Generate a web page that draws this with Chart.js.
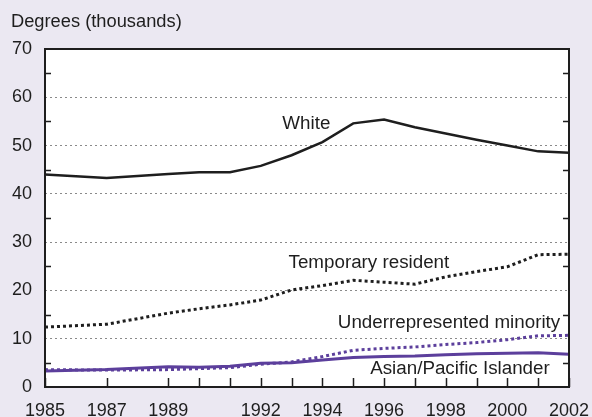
<!DOCTYPE html>
<html>
<head>
<meta charset="utf-8">
<script src="https://cdn.jsdelivr.net/npm/chart.js@4/dist/chart.umd.min.js"></script>
<style>
  html, body { margin: 0; padding: 0; background: #ebe8f2; }
  #wrap { width: 592px; height: 417px; position: relative; }
</style>
</head>
<body>
<div id="wrap"><canvas id="degChart"></canvas></div>
<script>
// data (thousands of degrees)
const years = [1985, 1987, 1989, 1990, 1991, 1992, 1993, 1994, 1995, 1996, 1997, 1998, 1999, 2000, 2001, 2002];
const labelYears = [1985, 1987, 1989, 1992, 1994, 1996, 1998, 2000, 2002];
const white = [44.0, 43.3, 44.1, 44.5, 44.5, 45.8, 48.0, 50.7, 54.6, 55.4, 53.8, 52.5, 51.2, 50.0, 48.8, 48.5];
const temporary = [12.4, 13.0, 15.3, 16.2, 17.0, 18.0, 20.1, 21.0, 22.1, 21.7, 21.3, 22.8, 23.9, 24.9, 27.4, 27.5];
const underrep = [3.6, 3.5, 3.6, 3.8, 4.0, 4.7, 5.2, 6.3, 7.6, 8.0, 8.3, 8.8, 9.2, 9.8, 10.6, 10.7];
const asian = [3.3, 3.6, 4.2, 4.1, 4.3, 4.9, 5.0, 5.6, 6.1, 6.3, 6.4, 6.7, 6.9, 7.0, 7.1, 6.8];
const yTicks = [0, 10, 20, 30, 40, 50, 60, 70];
const minorTicks = [5, 15, 25, 35, 45, 55, 65];

const PURPLE = '#5c3f9c';
const INK = '#1e1e1e';
const FONT = 'Liberation Sans, Arial, Helvetica, sans-serif';

// text labels next to the lines, anchored in data units
const lineLabels = [
  { text: 'White', x: 1992.7, y: 53.5 },
  { text: 'Temporary resident', x: 1992.9, y: 24.7 },
  { text: 'Underrepresented minority', x: 1994.5, y: 12.3 },
  { text: 'Asian/Pacific Islander', x: 1995.55, y: 2.7 }
];

function pts(vals) {
  return vals.map(function(v, i) { return { x: years[i], y: v }; });
}

const frame = {
  id: 'frame',
  beforeDraw(chart) {
    const c = chart.ctx, a = chart.chartArea;
    c.save();
    c.fillStyle = '#ebe8f2';
    c.fillRect(0, 0, chart.width, chart.height);
    c.fillStyle = '#ffffff';
    c.fillRect(a.left, a.top, a.right - a.left, a.bottom - a.top);
    c.restore();
  },
  afterDatasetsDraw(chart) {
    const c = chart.ctx, a = chart.chartArea;
    const xs = chart.scales.x, ys = chart.scales.y;
    c.save();
    c.strokeStyle = INK;
    c.lineWidth = 1.5;
    // inward minor ticks on both sides
    minorTicks.forEach(function(v) {
      const py = Math.round(ys.getPixelForValue(v)) + 0.5;
      c.beginPath();
      c.moveTo(a.left, py); c.lineTo(a.left + 6, py);
      c.moveTo(a.right, py); c.lineTo(a.right - 6, py);
      c.stroke();
    });
    // inward year ticks along the bottom
    years.forEach(function(yr) {
      const px = Math.round(xs.getPixelForValue(yr)) + 0.5;
      c.beginPath();
      c.moveTo(px, a.bottom); c.lineTo(px, a.bottom - 9);
      c.stroke();
    });
    c.lineWidth = 2;
    c.strokeRect(a.left, a.top, a.right - a.left, a.bottom - a.top);

    c.fillStyle = INK;
    c.font = '18.8px ' + FONT;
    c.textAlign = 'left';
    c.textBaseline = 'alphabetic';
    lineLabels.forEach(function(l) {
      c.fillText(l.text, xs.getPixelForValue(l.x), ys.getPixelForValue(l.y));
    });
    c.font = '18.3px ' + FONT;
    c.fillText('Degrees (thousands)', 11, 27);
    c.restore();
  }
};

new Chart(document.getElementById('degChart'), {
  type: 'line',
  plugins: [frame],
  data: {
    datasets: [
      { label: 'White', data: pts(white), borderColor: INK, borderWidth: 2.5 },
      { label: 'Temporary resident', data: pts(temporary), borderColor: INK, borderWidth: 3, borderDash: [3, 3] },
      { label: 'Underrepresented minority', data: pts(underrep), borderColor: PURPLE, borderWidth: 3, borderDash: [3, 3] },
      { label: 'Asian/Pacific Islander', data: pts(asian), borderColor: PURPLE, borderWidth: 3 }
    ]
  },
  options: {
    responsive: true,
    maintainAspectRatio: false,
    animation: false,
    events: [],
    layout: { padding: { left: 0, right: 23, top: 49, bottom: 0 } },
    elements: {
      point: { radius: 0 },
      line: { tension: 0, fill: false, borderCapStyle: 'butt' }
    },
    plugins: { legend: { display: false }, tooltip: { enabled: false } },
    scales: {
      x: {
        type: 'linear',
        min: 1985,
        max: 2002,
        afterBuildTicks(scale) { scale.ticks = labelYears.map(function(v) { return { value: v }; }); },
        afterFit(scale) { scale.height = 30; scale.paddingLeft = 0; scale.paddingRight = 0; },
        grid: { display: false, drawTicks: false },
        border: { display: false },
        ticks: {
          color: INK,
          font: { family: FONT, size: 18 },
          padding: 13,
          maxRotation: 0,
          autoSkip: false,
          callback: function(v) { return String(v); }
        }
      },
      y: {
        min: 0,
        max: 70,
        afterBuildTicks(scale) { scale.ticks = yTicks.map(function(v) { return { value: v }; }); },
        afterFit(scale) { scale.width = 45; scale.paddingTop = 0; scale.paddingBottom = 0; },
        grid: {
          drawTicks: false,
          color: function(ctx) { return (ctx.tick && (ctx.tick.value === 0 || ctx.tick.value === 70)) ? 'rgba(0,0,0,0)' : '#8a8a8a'; },
          lineWidth: 1
        },
        border: { display: false, dash: [2, 3] },
        ticks: {
          color: INK,
          font: { family: FONT, size: 18 },
          padding: 13
        }
      }
    }
  }
});
</script>
</body>
</html>
